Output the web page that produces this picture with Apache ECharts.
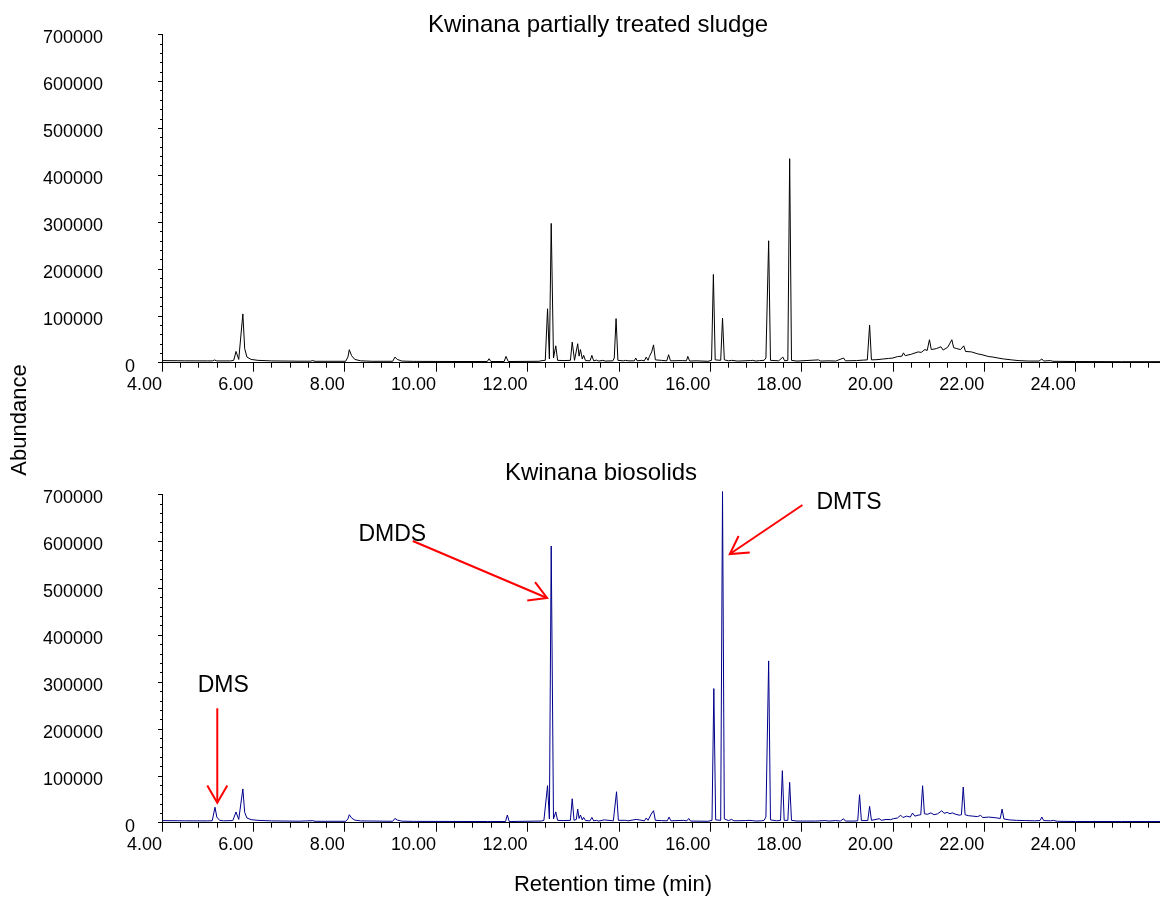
<!DOCTYPE html>
<html>
<head>
<meta charset="utf-8">
<title>Kwinana chromatograms</title>
<script src="https://cdn.jsdelivr.net/npm/echarts@6/dist/echarts.min.js"></script>
<style>
  html, body { margin: 0; padding: 0; background: #fff; }
  #chart { width: 1160px; height: 899px; }
</style>
</head>
<body>
<div id="chart"></div>
<script>
// Total ion chromatograms: [retention time (min), abundance]
const sludgeTrace = [
  [4.00, 4500], [4.50, 4000], [5.00, 3800], [5.10, 3800], [5.15, 5700], [5.20, 3800],
  [5.50, 3800], [5.57, 5000], [5.62, 24000], [5.68, 7000], [5.72, 9000], [5.77, 104000],
  [5.81, 30000], [5.86, 12000], [5.95, 7000], [6.10, 5000], [6.40, 3800], [7.00, 3200],
  [7.25, 3200], [7.30, 4500], [7.35, 3000], [8.02, 3000], [8.07, 12000], [8.10, 27700],
  [8.15, 15000], [8.22, 7000], [8.35, 4000], [8.60, 3000], [9.05, 3000], [9.10, 12000],
  [9.15, 7000], [9.25, 3500], [9.50, 2800], [9.54, 4500], [9.58, 2800], [10.50, 2500],
  [11.12, 2500], [11.16, 8500], [11.20, 2500], [11.49, 2500], [11.53, 13400], [11.58, 2500],
  [12.25, 3000], [12.32, 4500], [12.35, 6500], [12.39, 5000], [12.44, 115000], [12.48, 8000],
  [12.52, 297000], [12.57, 10000], [12.62, 36000], [12.66, 5000], [12.80, 4500], [12.94, 5000],
  [12.98, 44000], [13.03, 5000], [13.07, 8000], [13.10, 40500], [13.13, 14000], [13.16, 28000],
  [13.20, 8000], [13.23, 15600], [13.27, 4500], [13.37, 4000], [13.41, 15600], [13.45, 4000],
  [13.51, 5500], [13.56, 3500], [13.65, 5000], [13.70, 3500], [13.87, 4000], [13.90, 10000],
  [13.94, 94000], [13.98, 5000], [14.10, 4000], [14.15, 5000], [14.20, 4000], [14.34, 4000],
  [14.37, 10000], [14.40, 4000], [14.50, 5000], [14.56, 4000], [14.60, 12000], [14.64, 5000],
  [14.67, 13500], [14.72, 23000], [14.76, 38000], [14.80, 6000], [14.93, 5000], [15.05, 4000],
  [15.09, 17000], [15.13, 4000], [15.40, 4500], [15.48, 4000], [15.51, 13500], [15.55, 3500],
  [15.69, 4000], [15.95, 3000], [16.03, 5000], [16.07, 188000], [16.11, 6000], [16.23, 5000],
  [16.27, 95000], [16.31, 6000], [16.40, 4000], [16.47, 5000], [16.60, 3500], [16.88, 4500],
  [16.93, 5000], [17.00, 3500], [17.08, 4500], [17.18, 5000], [17.22, 10000], [17.28, 260000],
  [17.32, 5000], [17.50, 4000], [17.59, 12000], [17.63, 4000], [17.70, 5000], [17.74, 435000],
  [17.78, 5000], [17.90, 3500], [18.37, 6000], [18.42, 3500], [18.60, 4000], [18.75, 3500],
  [18.92, 10000], [18.96, 4000], [19.20, 4500], [19.35, 5500], [19.44, 6000], [19.49, 80000],
  [19.53, 6000], [19.65, 6500], [19.80, 8000], [19.90, 9000], [20.00, 10000], [20.10, 13000],
  [20.20, 14000], [20.23, 21000], [20.27, 15000], [20.40, 18000], [20.55, 23000], [20.62, 22000],
  [20.70, 28000], [20.75, 26000], [20.80, 49000], [20.84, 28000], [20.95, 30000], [21.05, 34000],
  [21.10, 27000], [21.20, 33000], [21.24, 40000], [21.29, 49000], [21.33, 32000], [21.40, 30000],
  [21.48, 28000], [21.55, 36000], [21.59, 24000], [21.72, 23000], [21.85, 19000], [21.95, 17000],
  [22.10, 13000], [22.19, 12000], [22.30, 10000], [22.42, 8000], [22.60, 6000], [22.74, 4500],
  [22.97, 3500], [23.20, 3500], [23.26, 8000], [23.30, 3500], [23.45, 4500], [23.50, 3000],
  [24.00, 2500], [25.00, 2200], [26.00, 2200]
];

const biosolidsTrace = [
  [4.00, 4500], [4.50, 4000], [5.00, 3800], [5.10, 4200], [5.16, 33000], [5.20, 12000],
  [5.26, 5000], [5.35, 4000], [5.55, 4500], [5.62, 22800], [5.68, 7000], [5.72, 9000],
  [5.77, 72000], [5.81, 22000], [5.86, 10000], [5.95, 6500], [6.10, 5000], [6.40, 3800],
  [7.00, 3200], [7.30, 4300], [7.35, 3000], [8.02, 3000], [8.07, 8000], [8.10, 17000],
  [8.15, 10000], [8.22, 5500], [8.35, 3800], [9.05, 3000], [9.10, 9200], [9.15, 5500],
  [9.25, 3300], [9.50, 2800], [9.54, 4500], [9.58, 2800], [11.12, 2500], [11.16, 5500],
  [11.20, 2500], [11.52, 2500], [11.56, 16400], [11.60, 2500], [12.30, 3500], [12.36, 5000],
  [12.40, 8000], [12.44, 79000], [12.48, 8000], [12.52, 590000], [12.57, 8000], [12.62, 23000],
  [12.66, 5000], [12.80, 4500], [12.94, 5000], [12.98, 51000], [13.02, 5000], [13.07, 7000],
  [13.10, 29000], [13.13, 9000], [13.16, 16400], [13.20, 6000], [13.23, 11300], [13.27, 4500],
  [13.37, 4000], [13.41, 11300], [13.45, 4000], [13.51, 5000], [13.56, 3500], [13.68, 6000],
  [13.72, 3500], [13.88, 4000], [13.91, 7000], [13.95, 66000], [13.99, 5000], [14.15, 5000],
  [14.20, 4000], [14.38, 7000], [14.42, 4000], [14.56, 4000], [14.60, 10000], [14.64, 5000],
  [14.68, 9000], [14.71, 18500], [14.76, 25600], [14.80, 5000], [14.93, 4500], [15.06, 4000],
  [15.10, 12000], [15.14, 4000], [15.41, 5000], [15.49, 4000], [15.53, 9000], [15.57, 3500],
  [15.95, 3000], [16.04, 5000], [16.08, 286000], [16.12, 6000], [16.23, 5000], [16.27, 706000],
  [16.31, 8000], [16.40, 4500], [16.47, 7000], [16.52, 4000], [16.78, 4500], [16.85, 5000],
  [16.92, 4500], [17.00, 3500], [17.12, 4000], [17.18, 5000], [17.22, 12000], [17.28, 345000],
  [17.32, 6000], [17.45, 4000], [17.54, 5000], [17.58, 111000], [17.62, 5000], [17.70, 5000],
  [17.74, 86000], [17.78, 5000], [17.90, 3500], [18.30, 3500], [18.52, 4500], [18.60, 3500],
  [18.75, 4500], [18.85, 3500], [18.92, 8500], [18.96, 3500], [19.15, 3500], [19.23, 4000],
  [19.27, 59700], [19.31, 4500], [19.45, 4500], [19.49, 34800], [19.53, 5000], [19.70, 8500],
  [19.75, 5000], [19.85, 7000], [19.95, 6500], [20.01, 8500], [20.10, 10000], [20.17, 16000],
  [20.22, 11000], [20.30, 14000], [20.38, 12000], [20.43, 20600], [20.48, 14000], [20.55, 16000],
  [20.61, 17000], [20.65, 78800], [20.69, 19000], [20.76, 18000], [20.83, 21000], [20.90, 17000],
  [20.98, 19000], [21.07, 25600], [21.12, 20000], [21.19, 22000], [21.25, 19000], [21.30, 21000],
  [21.36, 18500], [21.45, 16000], [21.50, 17000], [21.54, 76000], [21.58, 17000], [21.65, 15000],
  [21.75, 14000], [21.85, 13000], [21.92, 15600], [21.97, 11000], [22.10, 12000], [22.25, 10500],
  [22.35, 9000], [22.39, 29000], [22.43, 8000], [22.55, 6000], [22.70, 5000], [22.90, 4500],
  [23.10, 4000], [23.22, 4500], [23.26, 12000], [23.30, 4500], [23.45, 4000], [23.51, 5000],
  [23.60, 3000], [24.00, 2500], [25.00, 2500], [26.00, 2500]
];

// Named compounds in the biosolids run
const compoundNames = ['DMS', 'DMDS', 'DMTS'];

const panelTitles = ['Kwinana partially treated sludge', 'Kwinana biosolids'];
const yAxisTitle = 'Abundance';
const xAxisTitle = 'Retention time (min)';

const FONT = '"Liberation Sans", Arial, Helvetica, sans-serif';

const chart = echarts.init(document.getElementById('chart'), null, { renderer: 'canvas' });

function xAxisFor(gridIndex) {
  return {
    type: 'value', gridIndex: gridIndex, min: 4, max: 26, interval: 2,
    axisLine: { show: true, onZero: false, lineStyle: { color: '#000', width: 1 } },
    axisTick: { show: true, length: 9, lineStyle: { color: '#000', width: 1 } },
    minorTick: { show: true, splitNumber: 5, length: 5, lineStyle: { color: '#000', width: 1 } },
    splitLine: { show: false },
    axisLabel: {
      margin: 13, align: 'right', color: '#000', fontSize: 18, fontFamily: FONT,
      formatter: v => (Math.abs(v / 2 - Math.round(v / 2)) < 1e-9 && v < 25) ? v.toFixed(2) : ''
    }
  };
}

function yAxisFor(gridIndex) {
  return {
    type: 'value', gridIndex: gridIndex, min: 0, max: 700000, interval: 100000,
    axisLine: { show: true, lineStyle: { color: '#000', width: 1 } },
    axisTick: { show: true, length: 4, lineStyle: { color: '#000', width: 1 } },
    minorTick: { show: true, splitNumber: 5, length: 2, lineStyle: { color: '#000', width: 1 } },
    splitLine: { show: false },
    axisLabel: {
      margin: 27, color: '#000', fontSize: 18, fontFamily: FONT,
      formatter: v => v === 0 ? '{z|0}' : '{a|' + v + '}',
      rich: {
        a: { fontSize: 18, fontFamily: FONT, color: '#000', padding: [8, 32, 0, 0] },
        z: { fontSize: 18, fontFamily: FONT, color: '#000', padding: [8, 0, 0, 0] }
      }
    }
  };
}

chart.setOption({
  animation: false,
  backgroundColor: '#fff',
  grid: [
    { left: 162, right: -7, top: 34.4, height: 328.3, containLabel: false, outerBoundsMode: 'none' },
    { left: 162, right: -7, top: 494.4, height: 328.3, containLabel: false, outerBoundsMode: 'none' }
  ],
  xAxis: [xAxisFor(0), xAxisFor(1)],
  yAxis: [yAxisFor(0), yAxisFor(1)],
  series: [
    {
      type: 'line', xAxisIndex: 0, yAxisIndex: 0, data: sludgeTrace,
      showSymbol: false, symbol: 'none', clip: false,
      lineStyle: { color: '#000', width: 1 }
    },
    {
      type: 'line', xAxisIndex: 1, yAxisIndex: 1, data: biosolidsTrace,
      showSymbol: false, symbol: 'none', clip: false,
      lineStyle: { color: '#00008b', width: 1 }
    }
  ]
});

// Arrow annotations for the biosolids panel, anchored in data space
// (tip at the peak, tail near the compound name).
const arrowLayout = [
  { tip: [5.21, 42600], tail: [5.21, 243900], text: [5.34, 291500] },
  { tip: [12.43, 479100], tail: [9.49, 600600], text: [9.04, 613400] },
  { tip: [16.43, 572900], tail: [18.02, 677400], text: [19.04, 681600] }
];

const toPx = p => chart.convertToPixel({ gridIndex: 1 }, p);
const RED = '#ff0000';
const HEAD = 20, SPREAD = Math.PI / 6;
const graphics = [];

arrowLayout.forEach((a, i) => {
  const tip = toPx(a.tip), tail = toPx(a.tail), txt = toPx(a.text);
  const ang = Math.atan2(tail[1] - tip[1], tail[0] - tip[0]);
  const w1 = [tip[0] + HEAD * Math.cos(ang + SPREAD), tip[1] + HEAD * Math.sin(ang + SPREAD)];
  const w2 = [tip[0] + HEAD * Math.cos(ang - SPREAD), tip[1] + HEAD * Math.sin(ang - SPREAD)];
  graphics.push({
    type: 'line', silent: true,
    shape: { x1: tail[0], y1: tail[1], x2: tip[0], y2: tip[1] },
    style: { stroke: RED, lineWidth: 2 }
  });
  graphics.push({
    type: 'polyline', silent: true,
    shape: { points: [w1, tip, w2] },
    style: { stroke: RED, lineWidth: 2, fill: null }
  });
  graphics.push({
    type: 'text', silent: true, x: txt[0], y: txt[1],
    style: {
      text: compoundNames[i], fill: '#000', fontSize: 23, fontFamily: FONT,
      align: 'center', verticalAlign: 'middle', textAlign: 'center', textVerticalAlign: 'middle'
    }
  });
});

// Panel titles and shared axis titles
const textItem = (text, x, y, size, rotation) => ({
  type: 'text', silent: true, x: x, y: y, rotation: rotation || 0,
  style: {
    text: text, fill: '#000', fontSize: size, fontFamily: FONT,
    align: 'center', verticalAlign: 'middle', textAlign: 'center', textVerticalAlign: 'middle'
  }
});
graphics.push(textItem(panelTitles[0], 598, 25, 24));
graphics.push(textItem(panelTitles[1], 601, 473, 24));
graphics.push(textItem(yAxisTitle, 20, 420, 22, Math.PI / 2));
graphics.push(textItem(xAxisTitle, 613, 885, 22));

chart.setOption({ graphic: { elements: graphics } });
</script>
</body>
</html>
